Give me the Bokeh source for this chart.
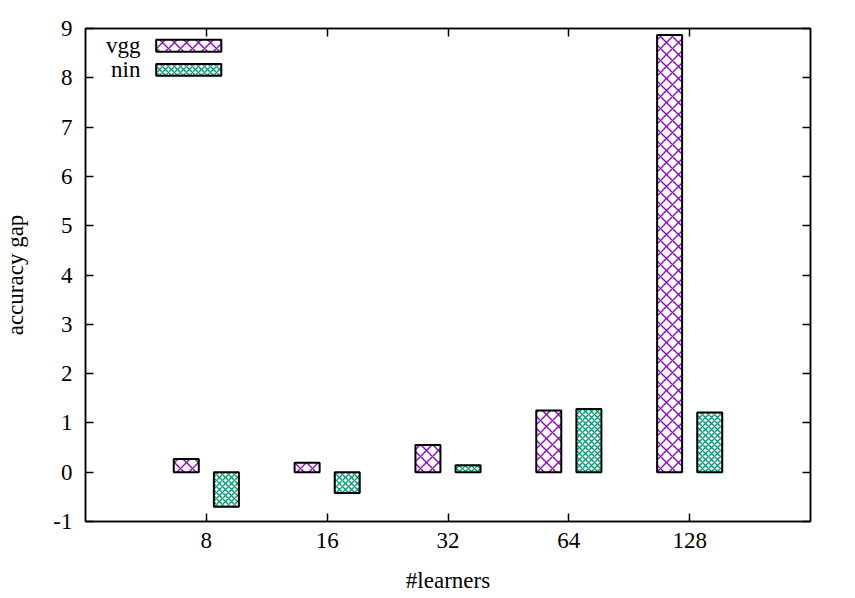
from bokeh.plotting import figure
from bokeh.models import FixedTicker, LinearAxis, Range1d, Label
from bokeh.embed import file_html
from bokeh.resources import INLINE

# ---- data ----
learners = ["8", "16", "32", "64", "128"]
vgg = [0.27, 0.19, 0.55, 1.25, 8.87]
nin = [-0.70, -0.42, 0.14, 1.28, 1.21]
y_ticks = [-1, 0, 1, 2, 3, 4, 5, 6, 7, 8, 9]
series_names = ["vgg", "nin"]

# ---- style ----
FONT = "Liberation Serif"
FS = "23px"
VGG_COLOR = "#9400D3"
NIN_COLOR = "#009E73"
BAR_W = 0.207
OFF = 0.166

idx = list(range(len(learners)))

p = figure(
    output_backend="svg", toolbar_location=None,
    frame_width=725, frame_height=493,
    min_border_left=84, min_border_top=28, min_border_right=34, min_border_bottom=20,
    x_range=Range1d(-1, 5), y_range=Range1d(-1, 9),
    x_axis_location=None, y_axis_location=None,
)
p.background_fill_color = "white"
p.border_fill_color = "white"
p.outline_line_color = "black"
p.outline_line_width = 1.5
p.xgrid.visible = False
p.ygrid.visible = False

p.vbar(x=[i - OFF for i in idx], top=vgg, bottom=0, width=BAR_W,
       fill_color="white", line_color="black", line_width=2,
       hatch_pattern="x", hatch_color=VGG_COLOR, hatch_scale=12, hatch_weight=1.4)
p.vbar(x=[i + OFF for i in idx], top=nin, bottom=0, width=BAR_W,
       fill_color="white", line_color="black", line_width=2,
       hatch_pattern="x", hatch_color=NIN_COLOR, hatch_scale=6, hatch_weight=1.4)

# ---- manual legend (gnuplot style: label left of sample) ----
leg_left, leg_right = -0.415, 0.124
leg_rows = [(8.77, 8.53), (8.28, 8.04)]
leg_colors = [VGG_COLOR, NIN_COLOR]
leg_scales = [12, 6]
for name, (t, b), c, s in zip(series_names, leg_rows, leg_colors, leg_scales):
    p.quad(left=[leg_left], right=[leg_right], top=[t], bottom=[b],
           fill_color="white", line_color="black", line_width=2,
           hatch_pattern="x", hatch_color=c, hatch_scale=s, hatch_weight=1.4)
    p.add_layout(Label(x=leg_left - 0.13, y=(t + b) / 2, text=name,
                       text_align="right", text_baseline="middle",
                       text_font=FONT, text_font_size=FS, text_color="black"))

def style_axis(ax, labels=True):
    ax.axis_line_color = "black"
    ax.axis_line_width = 1.5
    ax.major_tick_in = 8
    ax.major_tick_out = 0
    ax.minor_tick_in = 0
    ax.minor_tick_out = 0
    ax.major_tick_line_color = "black"
    ax.major_tick_line_width = 1.5
    ax.major_label_text_font = FONT
    ax.major_label_text_font_size = FS if labels else "0px"
    ax.major_label_text_color = "black"
    ax.axis_label_text_font = FONT
    ax.axis_label_text_font_size = FS
    ax.axis_label_text_font_style = "normal"
    ax.axis_label_text_color = "black"
    if not labels:
        ax.major_label_standoff = 0

xt = FixedTicker(ticks=idx)
yt = FixedTicker(ticks=y_ticks)
xlab = {i: l for i, l in zip(idx, learners)}
ylab = {v: str(v) for v in y_ticks}

bottom = LinearAxis(ticker=xt, major_label_overrides=xlab, axis_label="#learners")
style_axis(bottom)
bottom.major_label_standoff = 11
bottom.axis_label_standoff = 17
p.add_layout(bottom, "below")

top = LinearAxis(ticker=xt, major_label_overrides={i: "" for i in idx})
style_axis(top, labels=False)
p.add_layout(top, "above")

left = LinearAxis(ticker=yt, major_label_overrides=ylab, axis_label="accuracy gap")
style_axis(left)
left.major_label_standoff = 13
left.axis_label_standoff = 22
p.add_layout(left, "left")

right = LinearAxis(ticker=yt, major_label_overrides={v: "" for v in y_ticks})
style_axis(right, labels=False)
p.add_layout(right, "right")

open("out.html", "w").write(file_html(p, INLINE))
